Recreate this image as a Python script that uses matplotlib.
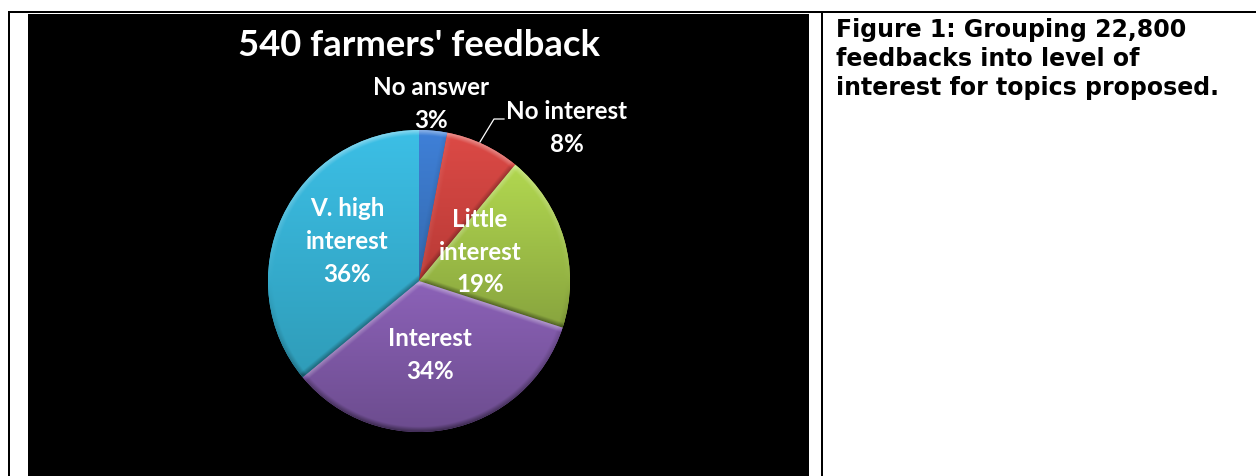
import numpy as np
import matplotlib
matplotlib.use('Agg')
import matplotlib.pyplot as plt
from matplotlib.colors import to_rgb
from matplotlib.patches import Rectangle

categories = ['No answer', 'No interest', 'Little interest', 'Interest', 'V. high interest']
shares = [3, 8, 19, 34, 36]
label_lines = ['No answer\n3%', 'No interest\n8%', 'Little\ninterest\n19%', 'Interest\n34%', 'V. high\ninterest\n36%']
top_colors = ['#3f80d8', '#dc4a46', '#b2d850', '#8c62b8', '#3cbfe6']
bottom_colors = ['#346aae', '#b83a36', '#88a43e', '#6c4c8e', '#2f9cb8']

W, H = 1256, 476
fig = plt.figure(figsize=(W / 100, H / 100), dpi=100, facecolor='white')


def pixel_axes(zorder):
    ax = fig.add_axes([0, 0, 1, 1], zorder=zorder)
    ax.set_xlim(0, W)
    ax.set_ylim(H, 0)
    ax.axis('off')
    return ax


back = pixel_axes(0)
front = pixel_axes(2)

# table rules and the black chart area
back.add_patch(Rectangle((28, 14), 781, H - 14, color='black', lw=0))
back.add_patch(Rectangle((8, 11), W - 8, 2, color='black', lw=0))
back.add_patch(Rectangle((8, 11), 2, H - 11, color='black', lw=0))
back.add_patch(Rectangle((821, 11), 2, H - 11, color='black', lw=0))

front.text(419, 45, "540 farmers' feedback", color='white', fontsize=26.2, fontweight='bold',
           family='Lato', ha='center', va='center')

# pie axes, radius 151 px around (419, 281)
cx, cy, r = 419, 281, 151
pie_ax = fig.add_axes([(cx - r) / W, 1 - (cy + r) / H, 2 * r / W, 2 * r / H], zorder=1)
wedges, _ = pie_ax.pie(shares, startangle=90, counterclock=False, radius=1, colors=top_colors,
                       wedgeprops={'edgecolor': 'none'})

yy, xx = np.mgrid[1:-1:700j, -1:1:700j]
bevel = 0.035


def edge_light(dist, normal_y):
    # lit on faces turned upward, shaded on faces turned downward
    strength = np.clip(1 - dist / bevel, 0, 1)
    return strength * normal_y


for wedge, top, bottom in zip(wedges, top_colors, bottom_colors):
    c0 = np.array(to_rgb(top))
    c1 = np.array(to_rgb(bottom))
    angles = np.radians(np.linspace(wedge.theta1, wedge.theta2, 90))
    y_hi = max(np.sin(angles).max(), 0)
    y_lo = min(np.sin(angles).min(), 0)
    t = np.clip((y_hi - yy) / (y_hi - y_lo), 0, 1)[..., None]
    rgb = c0 * (1 - t) + c1 * t

    a1, a2 = np.radians(wedge.theta1), np.radians(wedge.theta2)
    # distance to both straight edges and to the rim
    d1 = np.abs(xx * np.cos(a1 - np.pi / 2) + yy * np.sin(a1 - np.pi / 2))
    d2 = np.abs(xx * np.cos(a2 + np.pi / 2) + yy * np.sin(a2 + np.pi / 2))
    d3 = 1 - np.hypot(xx, yy)
    n1_y, n2_y = np.sin(a1 - np.pi / 2), np.sin(a2 + np.pi / 2)
    rim_y = yy / np.maximum(np.hypot(xx, yy), 1e-6)
    light = edge_light(d1, n1_y) + edge_light(d2, n2_y) + edge_light(d3, rim_y)
    light = np.clip(light, -1, 1)[..., None]
    rgb = np.where(light > 0, rgb + (1 - rgb) * light * 0.4, rgb * (1 + light * 0.45))

    im = pie_ax.imshow(rgb, extent=(-1, 1, -1, 1), zorder=2, aspect='auto')
    im.set_clip_path(wedge)
pie_ax.set_xlim(-1, 1)
pie_ax.set_ylim(-1, 1)
pie_ax.axis('off')

label_pos = [(431, 104), (567, 128), (480, 252), (430, 355), (347, 241.5)]
for text, (x, y) in zip(label_lines, label_pos):
    front.text(x, y, text, color='white', fontsize=17.4, fontweight='bold', family='Lato',
               ha='center', va='center', linespacing=1.5)

# leader line for the small red slice
front.plot([480, 494, 504], [142, 119, 119], color='white', lw=0.9)

caption = 'Figure 1: Grouping 22,800\nfeedbacks into level of\ninterest for topics proposed.'
front.text(836, 59, caption, color='black', fontsize=17, fontweight='bold', family='DejaVu Sans',
           ha='left', va='center', linespacing=1.24)

fig.savefig('out.png', dpi=100)
